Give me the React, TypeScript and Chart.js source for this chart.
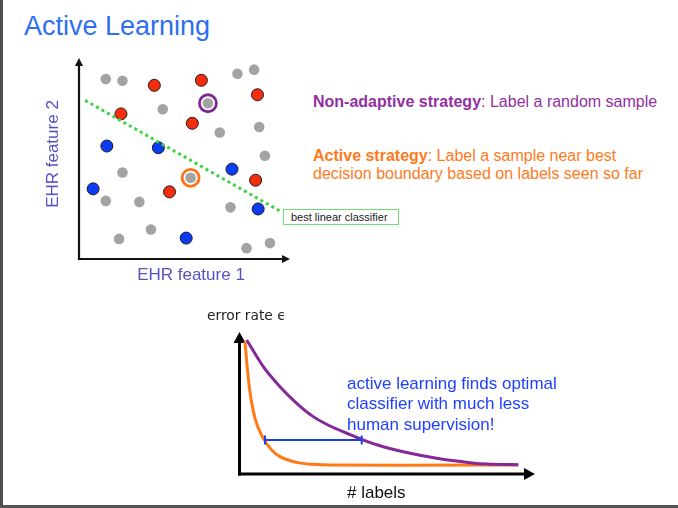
import React, { useEffect, useRef } from "react";
import { Chart, registerables } from "chart.js";

Chart.register(...registerables);

// ---------- scatter data (feature space, 0..10 units) ----------
const grayPoints = [
  { x: 1.27, y: 8.95 }, { x: 2.06, y: 8.87 }, { x: 7.51, y: 9.22 }, { x: 8.3, y: 9.42 },
  { x: 6.11, y: 7.75 }, { x: 3.97, y: 7.45 }, { x: 6.67, y: 6.29 }, { x: 8.54, y: 6.57 },
  { x: 8.81, y: 5.14 }, { x: 2.06, y: 4.3 }, { x: 5.29, y: 4.04 }, { x: 1.27, y: 2.89 },
  { x: 2.86, y: 2.84 }, { x: 7.18, y: 2.57 }, { x: 3.41, y: 1.47 }, { x: 1.9, y: 1.0 },
  { x: 9.05, y: 0.79 }, { x: 7.94, y: 0.54 },
];
const redPoints = [
  { x: 3.57, y: 8.64 }, { x: 5.8, y: 8.89 }, { x: 8.46, y: 8.17 }, { x: 1.99, y: 7.22 },
  { x: 5.37, y: 6.75 }, { x: 8.37, y: 3.92 }, { x: 4.29, y: 3.34 },
];
const bluePoints = [
  { x: 1.32, y: 5.62 }, { x: 3.76, y: 5.54 }, { x: 7.25, y: 4.47 }, { x: 0.67, y: 3.49 },
  { x: 8.49, y: 2.49 }, { x: 5.08, y: 1.04 },
];
const randomPick = [{ x: 6.11, y: 7.75 }];
const activePick = [{ x: 5.29, y: 4.04 }];
const boundary = [{ x: 0.29, y: 7.89 }, { x: 9.6, y: 2.34 }];

// ---------- learning curves (0..100 units) ----------
const passiveCurve = [
  { x: 2.44, y: 94.4 }, { x: 8.05, y: 75.6 }, { x: 13.7, y: 61.5 }, { x: 19.36, y: 49.8 },
  { x: 24.97, y: 40.4 }, { x: 30.63, y: 33.8 }, { x: 36.28, y: 28.7 }, { x: 41.9, y: 23.9 },
  { x: 47.55, y: 19.9 }, { x: 55.43, y: 15.7 }, { x: 66.73, y: 11.1 }, { x: 78.0, y: 8.0 },
  { x: 83.65, y: 7.0 }, { x: 94.35, y: 6.6 },
];
const activeCurve = [
  { x: 1.86, y: 93.2 }, { x: 2.64, y: 74.6 }, { x: 3.55, y: 57.7 }, { x: 5.25, y: 39.2 },
  { x: 8.05, y: 25.1 }, { x: 10.9, y: 16.9 }, { x: 13.7, y: 12.2 }, { x: 19.36, y: 8.2 },
  { x: 24.97, y: 6.8 }, { x: 30.63, y: 6.3 }, { x: 54.3, y: 6.1 }, { x: 94.35, y: 6.4 },
];
const savingArrow = [{ x: 8.63, y: 23.9 }, { x: 41.35, y: 23.9 }];

const arrowAxes = {
  id: "arrowAxes",
  beforeDatasetsDraw(chart: any, _a: any, o: any) {
    const { ctx, chartArea: ca } = chart;
    const x0 = ca.left;
    const y0 = ca.bottom;
    ctx.save();
    ctx.strokeStyle = o.color;
    ctx.fillStyle = o.color;
    ctx.lineWidth = o.width;
    ctx.beginPath();
    ctx.moveTo(x0, y0 + o.width / 2);
    ctx.lineTo(x0, ca.top + o.head - 1);
    ctx.stroke();
    ctx.beginPath();
    ctx.moveTo(x0, ca.top);
    ctx.lineTo(x0 - o.half, ca.top + o.head);
    ctx.lineTo(x0 + o.half, ca.top + o.head);
    ctx.closePath();
    ctx.fill();
    ctx.beginPath();
    ctx.moveTo(x0 - o.width / 2, y0);
    ctx.lineTo(ca.right - o.head + 1, y0);
    ctx.stroke();
    ctx.beginPath();
    ctx.moveTo(ca.right, y0);
    ctx.lineTo(ca.right - o.head, y0 - o.half);
    ctx.lineTo(ca.right - o.head, y0 + o.half);
    ctx.closePath();
    ctx.fill();
    ctx.restore();
  },
};

function ScatterPanel() {
  const ref = useRef<HTMLCanvasElement>(null);
  useEffect(() => {
    const chart = new Chart(ref.current!, {
      type: "scatter",
      data: {
        datasets: [
          { data: grayPoints, pointRadius: 5.3, pointBackgroundColor: "#a3a3a3", pointBorderWidth: 0, order: 5 },
          { data: redPoints, pointRadius: 6, pointBackgroundColor: "#f42d0c", pointBorderColor: "#2a1a1a", pointBorderWidth: 1, order: 4 },
          { data: bluePoints, pointRadius: 6, pointBackgroundColor: "#0b3cf2", pointBorderColor: "#1a1a2a", pointBorderWidth: 1, order: 4 },
          { data: randomPick, pointRadius: 8.5, pointBackgroundColor: "rgba(0,0,0,0)", pointBorderColor: "#7e2a90", pointBorderWidth: 2.8, order: 3 },
          { data: activePick, pointRadius: 8.5, pointBackgroundColor: "rgba(0,0,0,0)", pointBorderColor: "#ff7418", pointBorderWidth: 2.8, order: 3 },
          {
            type: "line", data: boundary, showLine: true, pointRadius: 0, borderColor: "#3fd43f",
            borderWidth: 3, borderDash: [3, 3.3], order: 1,
          } as any,
        ],
      },
      options: {
        animation: false,
        responsive: false,
        events: [],
        layout: { padding: { left: 20, right: 20, top: 12, bottom: 12 } },
        scales: {
          x: { type: "linear", min: 0, max: 10, display: false },
          y: { type: "linear", min: 0, max: 10, display: false },
        },
        plugins: {
          legend: { display: false },
          tooltip: { enabled: false },
          arrowAxes: { color: "#111", width: 2.2, head: 8, half: 4 },
        } as any,
      },
      plugins: [arrowAxes],
    });
    return () => chart.destroy();
  }, []);
  return (
    <canvas ref={ref} width={251} height={225}
      style={{ position: "absolute", left: 59, top: 46, width: 251, height: 225 }} />
  );
}

function CurvePanel() {
  const ref = useRef<HTMLCanvasElement>(null);
  useEffect(() => {
    const chart = new Chart(ref.current!, {
      type: "line",
      data: {
        datasets: [
          { data: savingArrow, borderColor: "#1b3df0", borderWidth: 2, pointStyle: "line", pointRotation: 90, pointRadius: 4.5, pointBorderWidth: 2, pointBorderColor: "#1b3df0", order: 1 },
          { data: passiveCurve, borderColor: "#86289a", borderWidth: 3, pointRadius: 0, cubicInterpolationMode: "monotone", order: 2 },
          { data: activeCurve, borderColor: "#ff7a14", borderWidth: 3, pointRadius: 0, cubicInterpolationMode: "monotone", order: 3 },
        ],
      },
      options: {
        animation: false,
        responsive: false,
        events: [],
        layout: { padding: { left: 15.5, right: 11, top: 12, bottom: 12 } },
        scales: {
          x: { type: "linear", min: 0, max: 100, display: false },
          y: { type: "linear", min: 0, max: 100, display: false },
        },
        plugins: {
          legend: { display: false },
          tooltip: { enabled: false },
          arrowAxes: { color: "#000", width: 3, head: 11, half: 6 },
        } as any,
      },
      plugins: [arrowAxes],
    });
    return () => chart.destroy();
  }, []);
  return (
    <canvas ref={ref} width={322} height={166}
      style={{ position: "absolute", left: 224, top: 320, width: 322, height: 166 }} />
  );
}

const sans = '"Liberation Sans", Arial, Helvetica, sans-serif';

export default function App() {
  const abs = (s: React.CSSProperties): React.CSSProperties => ({ position: "absolute", fontFamily: sans, whiteSpace: "nowrap", ...s });
  return (
    <div style={{ position: "fixed", left: 0, top: 0, width: 678, height: 508, background: "#fff", overflow: "hidden" }}>
      <div style={{ position: "absolute", left: 0, top: 0, width: 3, height: 508, background: "#4d4d4d" }} />
      <div style={{ position: "absolute", left: 0, top: 505, width: 678, height: 3, background: "#555" }} />

      <div style={abs({ left: 24, top: 11, fontSize: 27, lineHeight: "30px", color: "#2d6ff0" })}>Active Learning</div>

      <ScatterPanel />
      <CurvePanel />

      <div style={abs({ left: -17, top: 144, width: 140, height: 20, fontSize: 17, lineHeight: "20px", textAlign: "center", color: "#5652c2", transform: "rotate(-90deg)" })}>EHR feature 2</div>
      <div style={abs({ left: 121, top: 265, width: 140, fontSize: 17, lineHeight: "20px", textAlign: "center", color: "#5652c2" })}>EHR feature 1</div>

      <div style={abs({ left: 283, top: 209, width: 107, height: 14, border: "1px solid #70dd70", background: "#fff", fontSize: 11, lineHeight: "14px", color: "#222", paddingLeft: 7, boxSizing: "content-box" })}>best linear classifier</div>

      <div style={abs({ left: 313, top: 92.6, fontSize: 16, lineHeight: "18.3px", color: "#93309f" })}>
        <b>Non-adaptive strategy</b>: Label a random sample
      </div>
      <div style={abs({ left: 313, top: 147, fontSize: 16, lineHeight: "18.3px", color: "#ff7a1c" })}>
        <b>Active strategy</b>: Label a sample near best
        <br />decision boundary based on labels seen so far
      </div>

      <div style={abs({ left: 207, top: 306.5, fontSize: 13.8, lineHeight: "16px", color: "#222", fontFamily: '"DejaVu Sans", sans-serif' })}>error rate ϵ</div>

      <div style={abs({ left: 347, top: 373.9, fontSize: 17, lineHeight: "20.5px", color: "#2040ff" })}>
        active learning finds optimal
        <br />classifier with much less
        <br />human supervision!
      </div>

      <div style={abs({ left: 347, top: 483, fontSize: 17, lineHeight: "20px", color: "#111" })}># labels</div>
    </div>
  );
}
